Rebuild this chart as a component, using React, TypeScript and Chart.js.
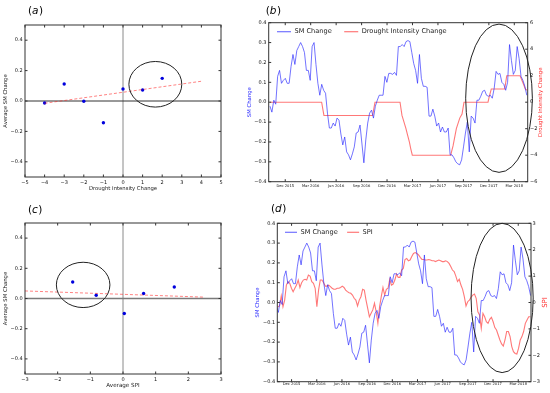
import React, { useEffect, useRef } from 'react';
import { Chart, registerables } from 'chart.js';
Chart.register(...registerables);

const FONT = '"DejaVu Sans", "Liberation Sans", sans-serif';

// ---------- (a) scatter: Drought Intensity Change vs Average SM Change ----------
const A_X = [-4, -3, -2, -1, 0, 1, 2];
const A_Y = [-0.013, 0.112, -0.002, -0.143, 0.079, 0.072, 0.149];
const A_TREND_X = [-4, 4];
const A_TREND_Y = [-0.015, 0.13];
const A_X_TICKS = [-5, -4, -3, -2, -1, 0, 1, 2, 3, 4, 5];

// ---------- (c) scatter: Average SPI vs Average SM Change ----------
const C_X = [-1.54, -0.82, 0.04, 0.63, 1.57];
const C_Y = [0.109, 0.022, -0.099, 0.033, 0.076];
const C_TREND_X = [-3, 2.5];
const C_TREND_Y = [0.05, 0.009];
const C_X_TICKS = [-3, -2, -1, 0, 1, 2, 3];

const SCATTER_Y_TICKS = [-0.4, -0.2, 0, 0.2, 0.4];

// ---------- time series (x = months since Sep 2015) ----------
const DATE_TICK_POS = [3, 6, 9, 12, 15, 18, 21, 24, 27, 30];
const DATE_TICK_LABELS = ['Dec 2015', 'Mar 2016', 'Jun 2016', 'Sep 2016', 'Dec 2016', 'Mar 2017', 'Jun 2017', 'Sep 2017', 'Dec 2017', 'Mar 2018'];

const SM_FIRST = 1.2;
const SM_LAST = 31.47;
const SM_VALUES = [
  -0.02, -0.05, 0.01, -0.01, 0.13, 0.16, 0.095, 0.11, 0.12, 0.095,
  0.095, 0.18, 0.24, 0.19, 0.26, 0.28, 0.30, 0.28, 0.25, 0.16,
  0.16, 0.11, 0.28, 0.30, 0.19, 0.095, 0.035, 0.09, 0.06, 0.045,
  -0.055, -0.13, -0.13, -0.105, -0.12, -0.08, -0.09, -0.16, -0.215, -0.175,
  -0.25, -0.265, -0.29, -0.26, -0.225, -0.155, -0.15, -0.115, -0.21, -0.305,
  -0.19, -0.105, -0.055, -0.04, -0.08, -0.02, 0.01, 0.035, 0.035, 0.035,
  0.13, 0.10, 0.145, 0.145, 0.14, 0.15, 0.135, 0.28, 0.28, 0.29,
  0.28, 0.305, 0.31, 0.305, 0.25, 0.195, 0.16, 0.095, 0.24, 0.12,
  0.08, 0.08, 0.075, -0.07, -0.07, -0.035, -0.07, -0.12, -0.105, -0.15,
  -0.125, -0.15, -0.15, -0.13, -0.265, -0.265, -0.28, -0.30, -0.31, -0.315,
  -0.29, -0.225, -0.155, -0.10, -0.25, -0.07, -0.08, -0.105, 0.01, 0.01,
  0.03, 0.055, 0.06, 0.035, 0.03, 0.035, 0.02, 0.07, 0.155, 0.14,
  0.145, 0.10, 0.09, 0.06, 0.10, 0.29, 0.21, 0.14, 0.16, 0.28,
  0.22, 0.13, 0.11, 0.08, 0.035,
];

const DI_X = [1.2, 7.29, 7.56, 13.3, 13.58, 16.53, 16.76, 17.0, 17.23, 17.43, 17.63, 17.79, 17.98, 22.5, 22.78, 23.17, 23.57, 23.84, 24.07, 26.9, 27.06, 27.29, 28.87, 28.99, 29.11, 30.68, 31.03, 31.3, 31.47];
const DI_Y = [0, 0, -1, -1, 0, 0, -1, -1.5, -2, -2.5, -3, -3.5, -4, -4, -3.3, -2, -1.2, -0.9, 0, 0, 0.45, 1, 1, 1.5, 2, 2, 1.45, 1.0, 0.9];

const SPI_FIRST = 1.37;
const SPI_LAST = 31.45;
const SPI_VALUES = [
  -0.16, -0.13, 0.25, -0.16, 0.09, 0.66, 0.79, 0.73, 0.54, 0.41,
  0.54, 0.66, 0.85, 0.57, 0.75, 0.85, 0.88, 0.85, 1.04, 1.0,
  0.79, 0.73, 0.54, -0.16, 0.47, 0.85, 0.85, 0.75, 0.62, 0.62,
  0.66, 0.6, 0.54, 0.5, 0.5, 0.54, 0.54, 0.57, 0.62, 0.57,
  0.47, 0.41, 0.37, 0.35, 0.28, 0.16, 0.09, -0.13, 0.09, 0.22,
  0.5, 0.47, 0.09, -0.22, -0.54, -0.41, -0.28, -0.03, -0.35, -0.79,
  -0.16, 0.22, 0.57, 0.28, 0.5, 0.54, 0.88, 0.66, 0.7, 0.85,
  1.08, 0.95, 0.95, 1.23, 1.29, 1.63, 1.67, 1.58, 1.61, 1.74,
  1.86, 1.89, 1.86, 1.8, 1.71, 1.63, 1.63, 1.61, 1.61, 1.63,
  1.61, 1.58, 1.58, 1.55, 1.58, 1.61, 1.58, 1.55, 1.55, 1.58,
  1.55, 1.48, 1.36, 1.23, 1.17, 1.0, 0.79, 0.88, 0.66, 0.5,
  0.22, -0.13, 0.03, 0.09, 0.2, 0.28, 0.32, 0.16, -0.35, -0.47,
  -0.98, -0.41, -0.54, -0.73, -0.79, -0.64, -0.56, -0.73, -0.95, -1.04,
  -1.23, -1.42, -1.57, -1.65, -1.42, -1.1, -1.1, -1.29, -1.67, -1.86,
  -1.93, -1.95, -1.74, -1.42, -1.29, -1.1, -0.79, -0.66, -0.54, -0.54,
];

const SM_TICKS = [-0.4, -0.3, -0.2, -0.1, 0, 0.1, 0.2, 0.3, 0.4];
const DI_TICKS = [-6, -4, -2, 0, 2, 4, 6];
const SPI_TICKS = [-3, -2, -1, 0, 1, 2, 3];

// ---------- helpers ----------
const fmt = (v: number, d: number) => (v < -1e-9 ? '\u2212' : '') + Math.abs(v).toFixed(d);
const evenSeries = (vals: number[], first: number, last: number) =>
  vals.map((y, i) => ({ x: first + (i * (last - first)) / (vals.length - 1), y }));
const pairs = (xs: number[], ys: number[]) => xs.map((x, i) => ({ x, y: ys[i] }));

function decorPlugin(o: any) {
  return {
    id: 'decor',
    beforeDatasetsDraw(chart: any) {
      const { ctx, chartArea: a, scales } = chart;
      if (!o.zeroLines) return;
      ctx.save();
      for (const z of o.zeroLines) {
        ctx.strokeStyle = z.color;
        ctx.lineWidth = z.width;
        ctx.beginPath();
        if (z.axis === 'x') {
          const px = scales.x.getPixelForValue(0);
          ctx.moveTo(px, a.top);
          ctx.lineTo(px, a.bottom);
        } else {
          const py = scales.y.getPixelForValue(0);
          ctx.moveTo(a.left, py);
          ctx.lineTo(a.right, py);
        }
        ctx.stroke();
      }
      ctx.restore();
    },
    afterDraw(chart: any) {
      const { ctx, chartArea: a, scales } = chart;
      ctx.save();
      // frame
      ctx.strokeStyle = '#333';
      ctx.lineWidth = 1;
      ctx.strokeRect(a.left, a.top, a.right - a.left, a.bottom - a.top);
      // inward tick marks
      const TL = 2.5;
      ctx.beginPath();
      for (const t of o.tickSides) {
        const s = scales[t.id];
        for (const tk of s.ticks) {
          const p = s.getPixelForValue(tk.value);
          if (t.side === 'bottom') { ctx.moveTo(p, a.bottom); ctx.lineTo(p, a.bottom - TL); }
          if (t.side === 'top') { ctx.moveTo(p, a.top); ctx.lineTo(p, a.top + TL); }
          if (t.side === 'left') { ctx.moveTo(a.left, p); ctx.lineTo(a.left + TL, p); }
          if (t.side === 'right') { ctx.moveTo(a.right, p); ctx.lineTo(a.right - TL, p); }
        }
      }
      ctx.stroke();
      // ellipse
      if (o.ellipse) {
        const e = o.ellipse;
        const xs = scales.x, ys = scales[e.yId || 'y'];
        const cx = xs.getPixelForValue(e.cx), cy = ys.getPixelForValue(e.cy);
        const rx = Math.abs(xs.getPixelForValue(e.cx + e.rx) - cx);
        const ry = Math.abs(ys.getPixelForValue(e.cy + e.ry) - cy);
        ctx.strokeStyle = '#222';
        ctx.lineWidth = 1;
        ctx.beginPath();
        ctx.ellipse(cx, cy, rx, ry, 0, 0, Math.PI * 2);
        ctx.stroke();
      }
      // panel label "(x)"
      if (o.panel) {
        const p = o.panel;
        ctx.fillStyle = '#000';
        ctx.textBaseline = 'middle';
        ctx.textAlign = 'left';
        let x = p.x;
        ctx.font = `${p.size}px ${FONT}`;
        ctx.fillText('(', x, p.y);
        x += ctx.measureText('(').width;
        ctx.font = `italic ${p.size}px ${FONT}`;
        ctx.fillText(p.letter, x, p.y);
        x += ctx.measureText(p.letter).width + 0.5;
        ctx.font = `${p.size}px ${FONT}`;
        ctx.fillText(')', x, p.y);
      }
      // legend inside chart area
      if (o.legend) {
        const L = o.legend;
        ctx.font = `${L.size}px ${FONT}`;
        ctx.textBaseline = 'middle';
        ctx.textAlign = 'left';
        let x = a.left + L.dx;
        const y = a.top + L.dy;
        chart.data.datasets.forEach((ds: any) => {
          ctx.strokeStyle = ds.borderColor;
          ctx.lineWidth = 1.2;
          ctx.beginPath();
          ctx.moveTo(x, y);
          ctx.lineTo(x + L.lineLen, y);
          ctx.stroke();
          x += L.lineLen + L.textGap;
          ctx.fillStyle = '#222';
          ctx.fillText(ds.label, x, y);
          x += ctx.measureText(ds.label).width + L.itemGap;
        });
      }
      // right axis title (reads bottom-to-top)
      if (o.rightTitle) {
        const r = o.rightTitle;
        ctx.translate(a.right + r.dx, (a.top + a.bottom) / 2);
        ctx.rotate(-Math.PI / 2);
        ctx.font = `${r.size}px ${FONT}`;
        ctx.fillStyle = r.color;
        ctx.textAlign = 'center';
        ctx.textBaseline = 'middle';
        ctx.fillText(r.text, 0, 0);
      }
      ctx.restore();
    },
  };
}

const TICK_FONT = { family: FONT, size: 5 };

function scatterConfig(p: any) {
  return {
    type: 'scatter',
    data: {
      datasets: [
        {
          type: 'line',
          data: pairs(p.trendX, p.trendY),
          borderColor: 'rgba(255,30,30,0.55)',
          borderDash: [3, 2],
          borderWidth: 1,
          pointRadius: 0,
          fill: false,
        },
        {
          type: 'scatter',
          data: pairs(p.xs, p.ys),
          pointRadius: 1.7,
          pointBorderWidth: 0,
          backgroundColor: '#0000dd',
          borderColor: '#0000dd',
        },
      ],
    },
    options: {
      responsive: false,
      animation: false,
      events: [],
      layout: { padding: { left: 0, top: p.top, right: p.right, bottom: 0 } },
      plugins: { legend: { display: false }, tooltip: { enabled: false } },
      scales: {
        x: {
          type: 'linear',
          min: p.xMin,
          max: p.xMax,
          grid: { display: false, drawTicks: false },
          border: { display: false },
          afterBuildTicks: (s: any) => { s.ticks = p.xTicks.map((v: number) => ({ value: v })); },
          afterFit: (s: any) => { s.height = p.xAxisH; },
          ticks: { callback: (v: number) => fmt(v, 0), font: TICK_FONT, color: '#111', padding: 2.5, autoSkip: false, maxRotation: 0 },
          title: { display: true, text: p.xTitle, font: { family: FONT, size: p.xTitleSize }, color: '#222', padding: { top: 0, bottom: p.xTitlePad } },
        },
        y: {
          type: 'linear',
          min: -0.5,
          max: 0.5,
          grid: { display: false, drawTicks: false },
          border: { display: false },
          afterBuildTicks: (s: any) => { s.ticks = SCATTER_Y_TICKS.map((v) => ({ value: v })); },
          afterFit: (s: any) => { s.width = p.yAxisW; },
          ticks: { callback: (v: number) => fmt(v, 1), font: TICK_FONT, color: '#111', padding: 2.3, autoSkip: false },
          title: { display: true, text: 'Average SM Change', font: { family: FONT, size: 5.3 }, color: '#222', padding: { top: p.yTitlePad, bottom: 0 } },
        },
      },
    },
    plugins: [
      decorPlugin({
        zeroLines: p.zeroLines,
        tickSides: [
          { id: 'x', side: 'bottom' }, { id: 'x', side: 'top' },
          { id: 'y', side: 'left' }, { id: 'y', side: 'right' },
        ],
        ellipse: p.ellipse,
        panel: p.panel,
      }),
    ],
  };
}

function seriesConfig(p: any) {
  return {
    type: 'line',
    data: {
      datasets: [
        {
          label: 'SM Change',
          data: evenSeries(SM_VALUES, SM_FIRST, SM_LAST),
          borderColor: 'rgba(40,40,255,0.65)',
          borderWidth: 1,
          pointRadius: 0,
          tension: 0,
          fill: false,
          yAxisID: 'y',
        },
        {
          label: p.label2,
          data: p.data2,
          borderColor: 'rgba(255,30,30,0.6)',
          borderWidth: 1.1,
          pointRadius: 0,
          tension: 0,
          fill: false,
          yAxisID: 'y2',
        },
      ],
    },
    options: {
      responsive: false,
      animation: false,
      events: [],
      layout: { padding: { left: 0, top: p.top, right: 0, bottom: 0 } },
      plugins: { legend: { display: false }, tooltip: { enabled: false } },
      scales: {
        x: {
          type: 'linear',
          min: p.xMin,
          max: p.xMax,
          grid: { display: false, drawTicks: false },
          border: { display: false },
          afterBuildTicks: (s: any) => { s.ticks = DATE_TICK_POS.map((v) => ({ value: v })); },
          afterFit: (s: any) => { s.height = p.xAxisH; },
          ticks: { callback: (_v: number, i: number) => DATE_TICK_LABELS[i], font: { family: FONT, size: 3.7 }, color: '#111', padding: p.xTickPad, autoSkip: false, maxRotation: 0 },
        },
        y: {
          type: 'linear',
          position: 'left',
          min: -0.4,
          max: 0.4,
          grid: { display: false, drawTicks: false },
          border: { display: false },
          afterBuildTicks: (s: any) => { s.ticks = SM_TICKS.map((v) => ({ value: v })); },
          afterFit: (s: any) => { s.width = p.yAxisW; },
          ticks: { callback: (v: number) => fmt(v, 1), font: TICK_FONT, color: '#111', padding: 2.2, autoSkip: false },
          title: { display: true, text: 'SM Change', font: { family: FONT, size: 5.3 }, color: '#2a2aff', padding: { top: p.yTitlePad, bottom: 0 } },
        },
        y2: {
          type: 'linear',
          position: 'right',
          min: p.y2Ticks[0],
          max: p.y2Ticks[p.y2Ticks.length - 1],
          grid: { display: false, drawTicks: false },
          border: { display: false },
          afterBuildTicks: (s: any) => { s.ticks = p.y2Ticks.map((v: number) => ({ value: v })); },
          afterFit: (s: any) => { s.width = p.y2AxisW; },
          ticks: { callback: (v: number) => fmt(v, 0), font: TICK_FONT, color: '#111', padding: p.y2TickPad, autoSkip: false },
        },
      },
    },
    plugins: [
      decorPlugin({
        tickSides: [
          { id: 'x', side: 'bottom' }, { id: 'x', side: 'top' },
          { id: 'y', side: 'left' }, { id: 'y2', side: 'right' },
        ],
        ellipse: p.ellipse,
        panel: p.panel,
        legend: p.legend,
        rightTitle: p.rightTitle,
      }),
    ],
  };
}

const CONFIG_A = () => scatterConfig({
  xs: A_X, ys: A_Y, trendX: A_TREND_X, trendY: A_TREND_Y, xTicks: A_X_TICKS,
  xMin: -5, xMax: 5, xTitle: 'Drought Intensity Change', xTitleSize: 5.3,
  top: 25, right: 9, xAxisH: 19, yAxisW: 25, xTitlePad: 4, yTitlePad: 2.7,
  zeroLines: [{ axis: 'x', color: '#8a8a8a', width: 1 }, { axis: 'y', color: '#333', width: 1 }],
  ellipse: { cx: 1.65, cy: 0.11, rx: 1.35, ry: 0.15 },
  panel: { letter: 'a', x: 28, y: 11, size: 10.5 },
});

const CONFIG_C = () => scatterConfig({
  xs: C_X, ys: C_Y, trendX: C_TREND_X, trendY: C_TREND_Y, xTicks: C_X_TICKS,
  xMin: -3, xMax: 3, xTitle: 'Average SPI', xTitleSize: 5.6,
  top: 27, right: 9, xAxisH: 19, yAxisW: 25, xTitlePad: 3.7, yTitlePad: 2.7,
  zeroLines: [{ axis: 'x', color: '#8a8a8a', width: 1 }, { axis: 'y', color: '#7a7a7a', width: 1.6 }],
  ellipse: { cx: -1.22, cy: 0.09, rx: 0.82, ry: 0.15 },
  panel: { letter: 'c', x: 28, y: 14, size: 10.5 },
});

const CONFIG_B = () => seriesConfig({
  label2: 'Drought Intensity Change',
  data2: pairs(DI_X, DI_Y),
  y2Ticks: DI_TICKS,
  xMin: 1.05, xMax: 31.58,
  top: 22.7, xAxisH: 14.3, yAxisW: 38.7, y2AxisW: 22.3, yTitlePad: 16, xTickPad: 2.5, y2TickPad: 2.3,
  ellipse: { cx: 28.2, cy: 0.02, rx: 3.93, ry: 0.373 },
  panel: { letter: 'b', x: 35.7, y: 11, size: 10.5 },
  legend: { dx: 8.3, dy: 9, lineLen: 14, textGap: 3.5, itemGap: 12.5, size: 6.6 },
  rightTitle: { text: 'Drought Intensity Change', color: '#ff3030', size: 5.4, dx: 13.3 },
});

const CONFIG_D = () => seriesConfig({
  label2: 'SPI',
  data2: evenSeries(SPI_VALUES, SPI_FIRST, SPI_LAST),
  y2Ticks: SPI_TICKS,
  xMin: 1.3, xMax: 31.52,
  top: 27.3, xAxisH: 11.3, yAxisW: 47.3, y2AxisW: 19, yTitlePad: 24, xTickPad: 0.5, y2TickPad: 1.5,
  ellipse: { cx: 28.08, cy: 0.023, rx: 3.7, ry: 0.377 },
  panel: { letter: 'd', x: 41, y: 13, size: 10.5 },
  legend: { dx: 7.7, dy: 9, lineLen: 12, textGap: 3.5, itemGap: 9.4, size: 6.6 },
  rightTitle: { text: 'SPI', color: '#ff3030', size: 7, dx: 14 },
});

function Panel({ left, top, width, height, make }: any) {
  const ref = useRef<HTMLCanvasElement | null>(null);
  useEffect(() => {
    if (!ref.current) return;
    const chart = new Chart(ref.current, make() as any);
    return () => chart.destroy();
  }, []);
  return (
    <canvas
      ref={ref}
      width={width}
      height={height}
      style={{ position: 'absolute', left, top, width, height }}
    />
  );
}

export default function App() {
  return (
    <div style={{ position: 'absolute', left: 0, top: 0, width: 550, height: 393, background: '#fff', overflow: 'hidden' }}>
      <Panel left={0} top={0} width={230} height={196} make={CONFIG_A} />
      <Panel left={230} top={0} width={320} height={196} make={CONFIG_B} />
      <Panel left={0} top={196} width={230} height={197} make={CONFIG_C} />
      <Panel left={230} top={196} width={320} height={197} make={CONFIG_D} />
    </div>
  );
}
